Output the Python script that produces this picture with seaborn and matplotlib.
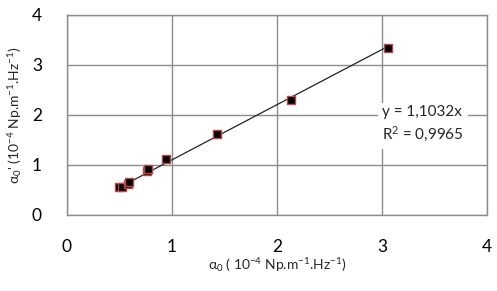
import numpy as np
import pandas as pd
import matplotlib
matplotlib.use("Agg")
import matplotlib.pyplot as plt
import seaborn as sns

# data
alpha0 = [0.50, 0.52, 0.58, 0.59, 0.76, 0.77, 0.94, 1.43, 2.13, 3.06]
alpha0_prime = [0.55, 0.56, 0.61, 0.65, 0.87, 0.91, 1.12, 1.61, 2.29, 3.33]
slope = 1.1032
r2 = 0.9965

df = pd.DataFrame({"x": alpha0, "y": alpha0_prime})
fit = pd.DataFrame({"x": [min(alpha0), max(alpha0)]})
fit["y"] = slope * fit["x"]

sns.set_style("white")
plt.rcParams["font.family"] = ["Lato", "DejaVu Sans"]
plt.rcParams["mathtext.fontset"] = "custom"
plt.rcParams["mathtext.rm"] = "Lato"
plt.rcParams["mathtext.it"] = "Lato"

fig = plt.figure(figsize=(4.97, 2.91), dpi=100)
ax = fig.add_axes([0.1348, 0.2612, 0.8451, 0.6873])

sns.lineplot(data=fit, x="x", y="y", color="#222222", linewidth=0.9, ax=ax, zorder=2)
sns.scatterplot(data=df, x="x", y="y", marker="s", s=28, color="black",
                edgecolor="#B84A45", linewidth=1.0, ax=ax, zorder=3)

ax.set_xlim(0, 4)
ax.set_ylim(0, 4)
ax.set_xticks([0, 1, 2, 3, 4])
ax.set_yticks([0, 1, 2, 3, 4])
ax.grid(True, color="#8c8c8c", linewidth=1.0)
ax.set_axisbelow(True)
for sp in ax.spines.values():
    sp.set_color("#8c8c8c")
    sp.set_linewidth(1.0)
ax.tick_params(length=0, labelsize=12.5, colors="black")
ax.tick_params(axis="x", pad=17)
ax.tick_params(axis="y", pad=18)

ax.set_xlabel("α$_0$ ( 10$^{-4}$ Np.m$^{-1}$.Hz$^{-1}$)", fontsize=10, labelpad=1)
ax.set_ylabel("α$_0$' (10$^{-4}$ Np.m$^{-1}$.Hz$^{-1}$)", fontsize=10, labelpad=6)

ax.text(3.0, 1.80, f"y = {slope:.4f}x\nR$^2$ = {r2:.4f}".replace(".", ","),
        fontsize=11, ha="left", va="center", linespacing=1.4,
        bbox=dict(facecolor="white", edgecolor="none", pad=3), zorder=4)

fig.savefig("out.png", dpi=100)
